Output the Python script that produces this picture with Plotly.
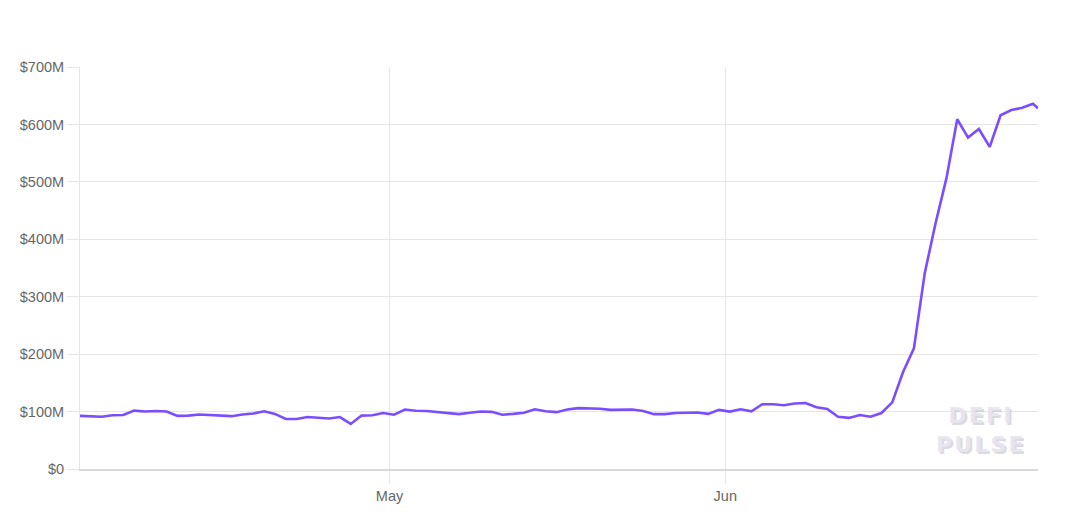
import pandas as pd
import plotly.graph_objects as go

# Daily values (USD millions), Apr 2 .. Jun 29, plus a final intraday point
daily_values = [
    92.5, 92, 91, 93.5, 94, 101.7, 100, 101, 100, 92.5,
    93, 95, 94, 94, 92, 95, 96.5, 100.5, 96, 87,
    87, 90.5, 89, 88, 90.5, 78.5, 93, 93.5, 97.5, 94.5,
    103.5, 101.5, 101, 99, 97.5, 95.5, 98, 100, 99.5, 94.5,
    96, 98, 104, 100.5, 99, 103.5, 106, 105.5, 105, 103,
    103.5, 103.5, 101, 95.5, 95.5, 97.5, 98, 98.5, 96, 103,
    100, 104, 100.5, 112.7, 112.7, 111, 114, 115, 107.5, 104.5,
    91, 89, 94, 91, 97.5, 116, 169, 210, 341, 428,
    506, 609, 577, 592, 561, 616, 625, 629, 636,
]
final_time = "2020-06-29 21:00"
final_value = 628

start_time = "2020-04-02 10:00"
dates = list(pd.date_range(start_time, periods=len(daily_values), freq="D")) + [pd.Timestamp(final_time)]
values = daily_values + [final_value]

y_tickvals = [0, 100, 200, 300, 400, 500, 600, 700]
y_ticktext = ["$0", "$100M", "$200M", "$300M", "$400M", "$500M", "$600M", "$700M"]
x_tickvals = ["2020-05-01", "2020-06-01"]
x_ticktext = ["May", "Jun"]

grid = "#e6e6e6"

fig = go.Figure()
fig.add_trace(go.Scatter(
    x=dates, y=values, mode="lines",
    line=dict(color="#7a4dff", width=2.6),
    hoverinfo="skip",
))

fig.update_layout(
    width=1080, height=517,
    margin=dict(l=72, r=50, t=59, b=56),
    paper_bgcolor="white", plot_bgcolor="white",
    showlegend=False,
    font=dict(family="Liberation Sans, Arial, sans-serif", size=14, color="#666666"),
    xaxis=dict(
        range=[dates[0], dates[-1]],
        tickvals=x_tickvals, ticktext=x_ticktext,
        showgrid=True, gridcolor=grid, gridwidth=1,
        ticks="outside", ticklen=13, tickcolor=grid, tickwidth=1,
        showline=True, linecolor="#d9d9d9", linewidth=1.5,
        zeroline=False, tickfont=dict(size=14.5, color="#666666"),
        automargin=False,
    ),
    yaxis=dict(
        range=[0, 700],
        tickvals=y_tickvals, ticktext=y_ticktext,
        showgrid=True, gridcolor=grid, gridwidth=1,
        ticks="outside", ticklen=12, tickcolor=grid, tickwidth=1,
        showline=True, linecolor=grid, linewidth=1,
        zeroline=False, tickfont=dict(size=14.5, color="#666666"),
        automargin=False,
    ),
)

# Watermark (shadow + text)
wm = "<b>D\u200aE\u200aF\u200aI<br>P\u200aU\u200aL\u200aS\u200aE</b>"
for dx, dy, col in [(2, -2, "rgba(195,193,205,0.6)"), (0, 0, "rgba(232,229,240,0.95)")]:
    fig.add_annotation(
        xref="paper", yref="paper", x=0.939, y=0.098,
        xshift=dx, yshift=dy,
        text=wm, showarrow=False,
        font=dict(family="DejaVu Sans, sans-serif", size=22, color=col),
        align="center", xanchor="center", yanchor="middle",
    )

fig.write_html("out.html")
